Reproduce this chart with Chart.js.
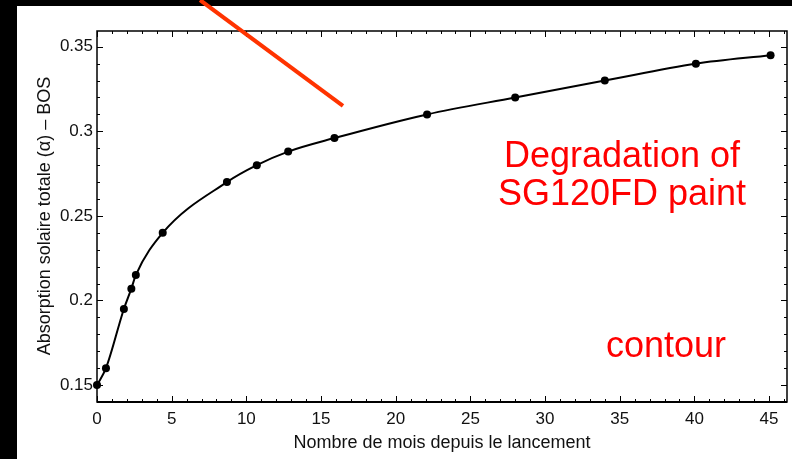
<!DOCTYPE html>
<html>
<head>
<meta charset="utf-8">
<script src="https://cdn.jsdelivr.net/npm/chart.js@4.4.1/dist/chart.umd.min.js"></script>
<style>
  html, body { margin: 0; padding: 0; background: #000; }
  canvas { display: block; }
</style>
</head>
<body>
<canvas id="chart" width="792" height="459"></canvas>
<script>
// mois depuis le lancement / absorption solaire
const months = [0, 0.6, 1.8, 2.3, 2.6, 4.4, 8.7, 10.7, 12.8, 15.9, 22.1, 28.0, 34.0, 40.1, 45.1]
const alpha = [0.15, 0.16, 0.195, 0.207, 0.215, 0.24, 0.27, 0.28, 0.288, 0.296, 0.31, 0.32, 0.33, 0.34, 0.345]
const xTicks = [0, 5, 10, 15, 20, 25, 30, 35, 40, 45]
const yTicks = [0.15, 0.2, 0.25, 0.3, 0.35]
// trait rouge (en coordonnées des données)
const redLine = [{ x: 6.9, y: 0.3776 }, { x: 16.47, y: 0.315 }]

const FONT = '"Liberation Sans", Arial, Helvetica, sans-serif'

const decor = {
  id: 'decor',
  beforeDraw(chart) {
    const ctx = chart.ctx
    ctx.save()
    ctx.fillStyle = '#000'
    ctx.fillRect(0, 0, chart.width, chart.height)
    ctx.fillStyle = '#fff'
    ctx.fillRect(17, 6, chart.width - 17, chart.height - 6)
    ctx.restore()
  },
  afterDatasetsDraw(chart) {
    const ctx = chart.ctx
    const { left, right, top, bottom } = chart.chartArea
    const xs = chart.scales.x
    const ys = chart.scales.y
    ctx.save()
    ctx.strokeStyle = '#000'
    // ticks vers l'intérieur
    ctx.lineWidth = 1
    for (let i = 0; i <= 46; i++) {
      const px = Math.round(xs.getPixelForValue(i)) + 0.5
      const len = i % 5 === 0 ? 6 : 3
      ctx.beginPath()
      ctx.moveTo(px, bottom); ctx.lineTo(px, bottom - len)
      ctx.moveTo(px, top); ctx.lineTo(px, top + len)
      ctx.stroke()
    }
    for (let i = 14; i <= 35; i++) {
      const py = Math.round(ys.getPixelForValue(i / 100)) + 0.5
      const len = i % 5 === 0 ? 6 : 3
      ctx.beginPath()
      ctx.moveTo(left, py); ctx.lineTo(left + len, py)
      ctx.moveTo(right, py); ctx.lineTo(right - len, py)
      ctx.stroke()
    }
    // cadre
    ctx.lineWidth = 1.5
    ctx.strokeRect(left, top, right - left, bottom - top)
    ctx.lineWidth = 2
    ctx.beginPath(); ctx.moveTo(left, bottom); ctx.lineTo(right, bottom); ctx.stroke()

    // titres des axes
    ctx.fillStyle = '#111'
    ctx.font = '18px ' + FONT
    ctx.textAlign = 'center'
    ctx.textBaseline = 'alphabetic'
    ctx.fillText('Nombre de mois depuis le lancement', 442, 448)
    ctx.save()
    ctx.translate(50, 216)
    ctx.rotate(-Math.PI / 2)
    ctx.fillText('Absorption solaire totale (\u03B1) \u2013 BOS', 0, 0)
    ctx.restore()

    // annotations
    ctx.fillStyle = '#ff0000'
    ctx.font = '36px ' + FONT
    ctx.fillText('Degradation of', 622, 167)
    ctx.fillText('SG120FD paint', 622, 205)
    ctx.fillText('contour', 666, 357)

    ctx.strokeStyle = '#ff3300'
    ctx.lineWidth = 4
    ctx.beginPath()
    ctx.moveTo(xs.getPixelForValue(redLine[0].x), ys.getPixelForValue(redLine[0].y))
    ctx.lineTo(xs.getPixelForValue(redLine[1].x), ys.getPixelForValue(redLine[1].y))
    ctx.stroke()
    ctx.restore()
  }
}

new Chart(document.getElementById('chart').getContext('2d'), {
  type: 'line',
  plugins: [decor],
  data: {
    datasets: [{
      data: months.map((m, i) => ({ x: m, y: alpha[i] })),
      borderColor: '#000',
      backgroundColor: '#000',
      borderWidth: 2,
      pointRadius: 4,
      pointBackgroundColor: '#000',
      pointBorderWidth: 0,
      cubicInterpolationMode: 'monotone',
      fill: false,
      clip: false,
    }],
  },
  options: {
    responsive: false,
    animation: false,
    layout: { padding: { top: 31, right: 5, left: 0, bottom: 0 } },
    plugins: { legend: { display: false }, tooltip: { enabled: false } },
    scales: {
      x: {
        type: 'linear',
        min: 0,
        max: 46.2,
        grid: { display: false, drawTicks: false },
        border: { display: false },
        afterFit: (s) => { s.height = 57 },
        afterBuildTicks: (s) => { s.ticks = xTicks.map((v) => ({ value: v })) },
        ticks: {
          padding: 7,
          color: '#111',
          font: { family: FONT, size: 17 },
          maxRotation: 0,
          callback: (v) => String(v),
        },
      },
      y: {
        type: 'linear',
        min: 0.14,
        max: 0.3593,
        grid: { display: false, drawTicks: false },
        border: { display: false },
        afterFit: (s) => { s.width = 97 },
        afterBuildTicks: (s) => { s.ticks = yTicks.map((v) => ({ value: v })) },
        ticks: {
          padding: 4,
          color: '#111',
          font: { family: FONT, size: 17 },
          callback: (v) => String(+v.toFixed(2)),
        },
      },
    },
  },
})
</script>
</body>
</html>
